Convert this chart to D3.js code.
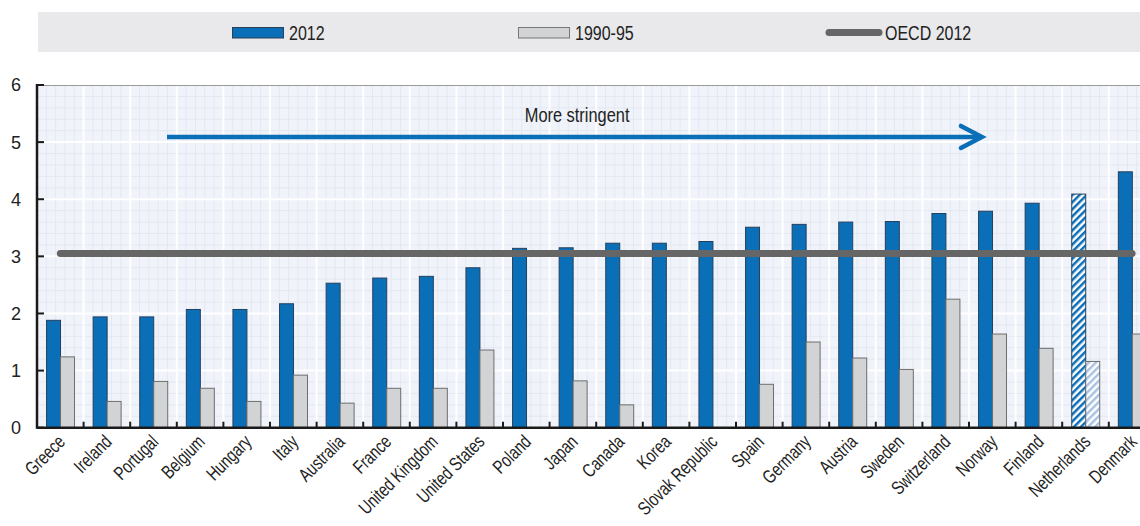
<!DOCTYPE html>
<html><head><meta charset="utf-8">
<script src="https://cdn.jsdelivr.net/npm/d3@7"></script>
<style>html,body{margin:0;padding:0;background:#fff;overflow:hidden}svg{display:block}</style>
</head><body>
<svg id="c" width="1140" height="526"></svg>
<script>
const countries = ["Greece","Ireland","Portugal","Belgium","Hungary","Italy","Australia","France","United Kingdom","United States","Poland","Japan","Canada","Korea","Slovak Republic","Spain","Germany","Austria","Sweden","Switzerland","Norway","Finland","Netherlands","Denmark"];
const values2012 = [1.88,1.94,1.94,2.07,2.07,2.17,2.53,2.62,2.65,2.80,3.14,3.15,3.23,3.23,3.26,3.51,3.56,3.60,3.61,3.75,3.79,3.93,4.09,4.48];
const values1990 = [1.24,0.46,0.81,0.69,0.46,0.92,0.43,0.69,0.69,1.36,null,0.82,0.40,null,null,0.76,1.50,1.22,1.02,2.25,1.64,1.39,1.16,1.64];
const oecd2012 = 3.05;
const hatchedCountries = ["Netherlands"];
const yTicks = [0,1,2,3,4,5,6];
const seriesNames = ["2012","1990-95"];
const legendLabels = ["2012","1990-95","OECD 2012"];
const annotationText = "More stringent";

const svg = d3.select("#c");
const FONT = "'Liberation Sans', Arial, sans-serif";
const BLUE = "#0b6fb8", GRAY = "#d2d3d5", DARK = "#666666";

const x = d3.scaleBand().domain(countries).range([37, 1155.4]).padding(0);
const bw = x.bandwidth();
const x1 = d3.scaleBand().domain(seriesNames).range([bw*0.205, bw*0.805]).padding(0);
const y = d3.scaleLinear().domain([0,6]).range([427.7, 85]);

const defs = svg.append("defs");
function hatch(id, bg, fg){
  const p = defs.append("pattern").attr("id", id).attr("patternUnits","userSpaceOnUse")
    .attr("width", 5).attr("height", 5).attr("patternTransform","rotate(45)");
  p.append("rect").attr("width",5).attr("height",5).attr("fill",bg);
  p.append("rect").attr("width",2.5).attr("height",5).attr("fill",fg);
}
hatch("hBlue", "#ffffff", BLUE);
hatch("hGray", "#ffffff", "#a9c1e2");
const clip = defs.append("clipPath").attr("id","plotClip");
clip.append("rect").attr("x",37).attr("y",85).attr("width",1140-37).attr("height",427.7-85);

function condText(g, tx, ty, str, size, sx, anchor, rot){
  return g.append("text")
    .attr("transform", `translate(${tx},${ty})` + (rot? ` rotate(${rot})`:"") + ` scale(${sx},1)`)
    .attr("font-family", FONT).attr("font-size", size).attr("fill","#222")
    .attr("text-anchor", anchor || "start").text(str);
}

// legend band
const lg = svg.append("g");
lg.append("rect").attr("x",38).attr("y",12).attr("width",1102).attr("height",40).attr("fill","#e9e9ec");
lg.append("rect").attr("x",232.5).attr("y",27.5).attr("width",51).attr("height",10.5).attr("fill",BLUE).attr("stroke","#2a3f55").attr("stroke-width",1);
condText(lg, 289, 40, legendLabels[0], 20, 0.8);
lg.append("rect").attr("x",518.5).attr("y",27.5).attr("width",51).attr("height",10.5).attr("fill",GRAY).attr("stroke","#777").attr("stroke-width",1);
condText(lg, 575, 40, legendLabels[1], 20, 0.8);
lg.append("line").attr("x1",829).attr("x2",879).attr("y1",32.5).attr("y2",32.5).attr("stroke",DARK).attr("stroke-width",7).attr("stroke-linecap","round");
condText(lg, 885, 40, legendLabels[2], 20, 0.8);

// plot background
const pg = svg.append("g").attr("clip-path","url(#plotClip)");
pg.append("rect").attr("x",37).attr("y",85).attr("width",1120).attr("height",342.7).attr("fill","#f0f3f9");
const minorY = d3.range(0, 6.0001, 0.2);
pg.selectAll("line.my").data(minorY).join("line").attr("class","my")
  .attr("x1",37).attr("x2",1160).attr("y1",d=>y(d)).attr("y2",d=>y(d))
  .attr("stroke","#e3e8f1").attr("stroke-width",1);
const minorX = [];
countries.forEach(c=>{ for(let k=0;k<5;k++) minorX.push(x(c)+k*bw/5); });
pg.selectAll("line.mx").data(minorX).join("line").attr("class","mx")
  .attr("x1",d=>d).attr("x2",d=>d).attr("y1",85).attr("y2",427.7)
  .attr("stroke","#e3e8f1").attr("stroke-width",1);
pg.selectAll("line.gy").data(yTicks).join("line").attr("class","gy")
  .attr("x1",37).attr("x2",1160).attr("y1",d=>y(d)).attr("y2",d=>y(d))
  .attr("stroke","#ffffff").attr("stroke-width",2);
pg.selectAll("line.gx").data(countries).join("line").attr("class","gx")
  .attr("x1",d=>x(d)).attr("x2",d=>x(d)).attr("y1",85).attr("y2",427.7)
  .attr("stroke","#ffffff").attr("stroke-width",2);

// bars
const rows = countries.map((c,i)=>({c, v:[values2012[i], values1990[i]]}));
const bars = svg.append("g");
rows.forEach(r=>{
  const h = hatchedCountries.includes(r.c);
  seriesNames.forEach((s,j)=>{
    const v = r.v[j];
    if(v==null) return;
    bars.append("rect")
      .attr("x", x(r.c)+x1(s)).attr("width", x1.bandwidth())
      .attr("y", y(v)).attr("height", y(0)-y(v))
      .attr("fill", j===0 ? (h?"url(#hBlue)":BLUE) : (h?"url(#hGray)":GRAY))
      .attr("stroke", j===0 ? "#24405e" : "#6e6e6e").attr("stroke-width", 1);
  });
});

// OECD line
svg.append("line")
  .attr("x1", x(countries[0])+bw/2).attr("x2", x(countries[countries.length-1])+bw/2)
  .attr("y1", y(oecd2012)).attr("y2", y(oecd2012))
  .attr("stroke", DARK).attr("stroke-width", 7).attr("stroke-linecap","round");

// annotation arrow
const arrowFrom = 2.79, arrowTo = 20.32, arrowY = 5.09;
const ax0 = x.range()[0] + arrowFrom*x.step(), ax1 = x.range()[0] + arrowTo*x.step(), ay = y(arrowY);
svg.append("line").attr("x1",ax0).attr("x2",ax1-3).attr("y1",ay).attr("y2",ay)
  .attr("stroke",BLUE).attr("stroke-width",4.5);
svg.append("path").attr("d",`M${ax1-23},${ay-11} L${ax1-2},${ay} L${ax1-23},${ay+11}`)
  .attr("fill","none").attr("stroke",BLUE).attr("stroke-width",4.5)
  .attr("stroke-linecap","round").attr("stroke-linejoin","miter");
condText(svg, x.range()[0] + 11.59*x.step(), y(5.36), annotationText, 20, 0.82, "middle");

// axes
const ax = svg.append("g");
ax.append("line").attr("x1",37).attr("x2",1140).attr("y1",85.5).attr("y2",85.5).attr("stroke","#9a9a9a").attr("stroke-width",1);
ax.append("line").attr("x1",37).attr("x2",1140).attr("y1",y(0)).attr("y2",y(0)).attr("stroke","#1a1a1a").attr("stroke-width",2.5);
ax.append("line").attr("x1",37).attr("x2",37).attr("y1",84).attr("y2",y(0)+1).attr("stroke","#1a1a1a").attr("stroke-width",2.5);
ax.selectAll("line.yt").data(yTicks).join("line").attr("class","yt")
  .attr("x1",37).attr("x2",44).attr("y1",d=>y(d)).attr("y2",d=>y(d)).attr("stroke","#1a1a1a").attr("stroke-width",2);
ax.selectAll("line.xt").data(countries.slice(1)).join("line").attr("class","xt")
  .attr("x1",d=>x(d)).attr("x2",d=>x(d)).attr("y1",y(0)).attr("y2",y(0)-6).attr("stroke","#1a1a1a").attr("stroke-width",2);
ax.selectAll("text.yl").data(yTicks).join("text").attr("class","yl")
  .attr("x",21).attr("y",d=>y(d)).attr("dy","0.36em").attr("text-anchor","end")
  .attr("font-family",FONT).attr("font-size",18).attr("fill","#222").text(d=>d);
countries.forEach(c=>{
  condText(ax, x(c)+bw/2+6, 443, c, 19, 0.76, "end", -45);
});
</script>
</body></html>
